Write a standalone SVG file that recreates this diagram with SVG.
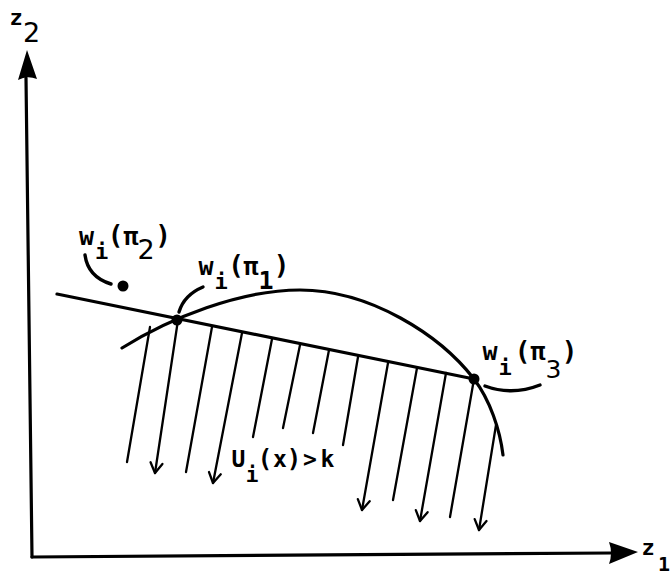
<svg xmlns="http://www.w3.org/2000/svg" width="672" height="575" viewBox="0 0 672 575">
<style>
.ln{fill:none;stroke:#000;stroke-linecap:round;stroke-linejoin:round}
.ax{stroke-width:3.2}
.cv{stroke-width:3.2}
.ht{stroke-width:2.3}
.ld{stroke-width:3.4}
.t{font-family:"DejaVu Sans Mono","Liberation Mono",monospace;font-weight:bold;fill:#000;text-anchor:middle}
.d{font-family:"DejaVu Sans","Liberation Sans",sans-serif;fill:#000;text-anchor:middle}
</style>
<defs>
<marker id="chev" viewBox="-12 -8 14 16" markerWidth="14" markerHeight="16" refX="0" refY="0" orient="auto" markerUnits="userSpaceOnUse">
<path d="M-10,-6 L0,0 L-10,6" fill="none" stroke="#000" stroke-width="2.3" stroke-linecap="round" stroke-linejoin="round"/>
</marker>
</defs>
<rect width="672" height="575" fill="#fff"/>
<g id="axes">
<path class="ln ax" d="M32,557 L26,78"/>
<path d="M27,50 L37,79 Q27,75 18,80 Z" fill="#000"/>
<path class="ln ax" d="M32,557 L612,553"/>
<path d="M638,552 L609,542 Q613,553 609,564 Z" fill="#000"/>
</g>
<g id="connectors">
<path id="frontier-curve" class="ln cv" d="M122,348 C170,318 240,290 300,290 C370,290 440,335 474,379 C490,400 500,430 503,455"/>
<path id="budget-line" class="ln cv" d="M57,294 L474,379"/>
<g id="hatch" class="ln ht">
<path d="M150,327 L127,462"/>
<path d="M178,320 L155,473" marker-end="url(#chev)"/>
<path d="M212,327 L186,472"/>
<path d="M242,333 L213,483" marker-end="url(#chev)"/>
<path d="M272,339 L253,437"/>
<path d="M300,345 L283,428"/>
<path d="M329,350 L313,433"/>
<path d="M358,357 L343,445"/>
<path d="M388,363 L362,510" marker-end="url(#chev)"/>
<path d="M417,368 L393,500"/>
<path d="M446,373 L420,521" marker-end="url(#chev)"/>
<path d="M474,379 L450,517"/>
<path d="M496,425 L479,530" marker-end="url(#chev)"/>
</g>
<path class="ln ld" d="M85,255 Q88,277 111,284"/>
<path class="ln ld" d="M203,287 Q184,295 179,312"/>
<path class="ln ld" d="M485,386 Q512,396 540,385"/>
</g>
<g id="point-pi2"><circle cx="123" cy="286" r="5.5" fill="#000"/></g>
<g id="point-pi1"><circle cx="177" cy="320" r="5.5" fill="#000"/></g>
<g id="point-pi3"><circle cx="474" cy="379" r="5.5" fill="#000"/></g>
<g id="label-z2">
<text class="t" x="16" y="25" font-size="22">z</text>
<text class="d" x="31.5" y="42" font-size="27">2</text>
</g>
<g id="label-z1">
<text class="t" x="648" y="555" font-size="22">z</text>
<text class="t" x="664" y="571" font-size="20">1</text>
</g>
<g id="label-pi2">
<text class="t" font-size="25"><tspan x="86.5" y="245">w</tspan><tspan x="101.5" y="259" font-size="22">i</tspan><tspan x="115.5" y="244" font-size="26">(</tspan><tspan x="131" y="245">π</tspan><tspan class="d" x="146" y="259" font-size="27" font-weight="normal">2</tspan><tspan x="163" y="244" font-size="26">)</tspan></text>
</g>
<g id="label-pi1">
<text class="t" font-size="25"><tspan x="206" y="275">w</tspan><tspan x="221" y="289" font-size="22">i</tspan><tspan x="236" y="274" font-size="26">(</tspan><tspan x="251" y="275">π</tspan><tspan x="266" y="289">1</tspan><tspan x="281.5" y="274" font-size="26">)</tspan></text>
</g>
<g id="label-pi3">
<text class="t" font-size="25"><tspan x="490" y="360">w</tspan><tspan x="505" y="375" font-size="22">i</tspan><tspan x="522.5" y="360" font-size="26">(</tspan><tspan x="538" y="360">π</tspan><tspan class="d" x="553.5" y="378" font-size="25" font-weight="normal">3</tspan><tspan x="569.5" y="360" font-size="26">)</tspan></text>
</g>
<g id="label-utility">
<text class="t" font-size="23"><tspan x="238.5" y="467">U</tspan><tspan x="252" y="482" font-size="21">i</tspan><tspan x="265" y="467" font-size="24">(</tspan><tspan x="280" y="467">x</tspan><tspan x="294" y="467" font-size="24">)</tspan><tspan x="310" y="467">&gt;</tspan><tspan x="327.5" y="467">k</tspan></text>
</g>
</svg>
